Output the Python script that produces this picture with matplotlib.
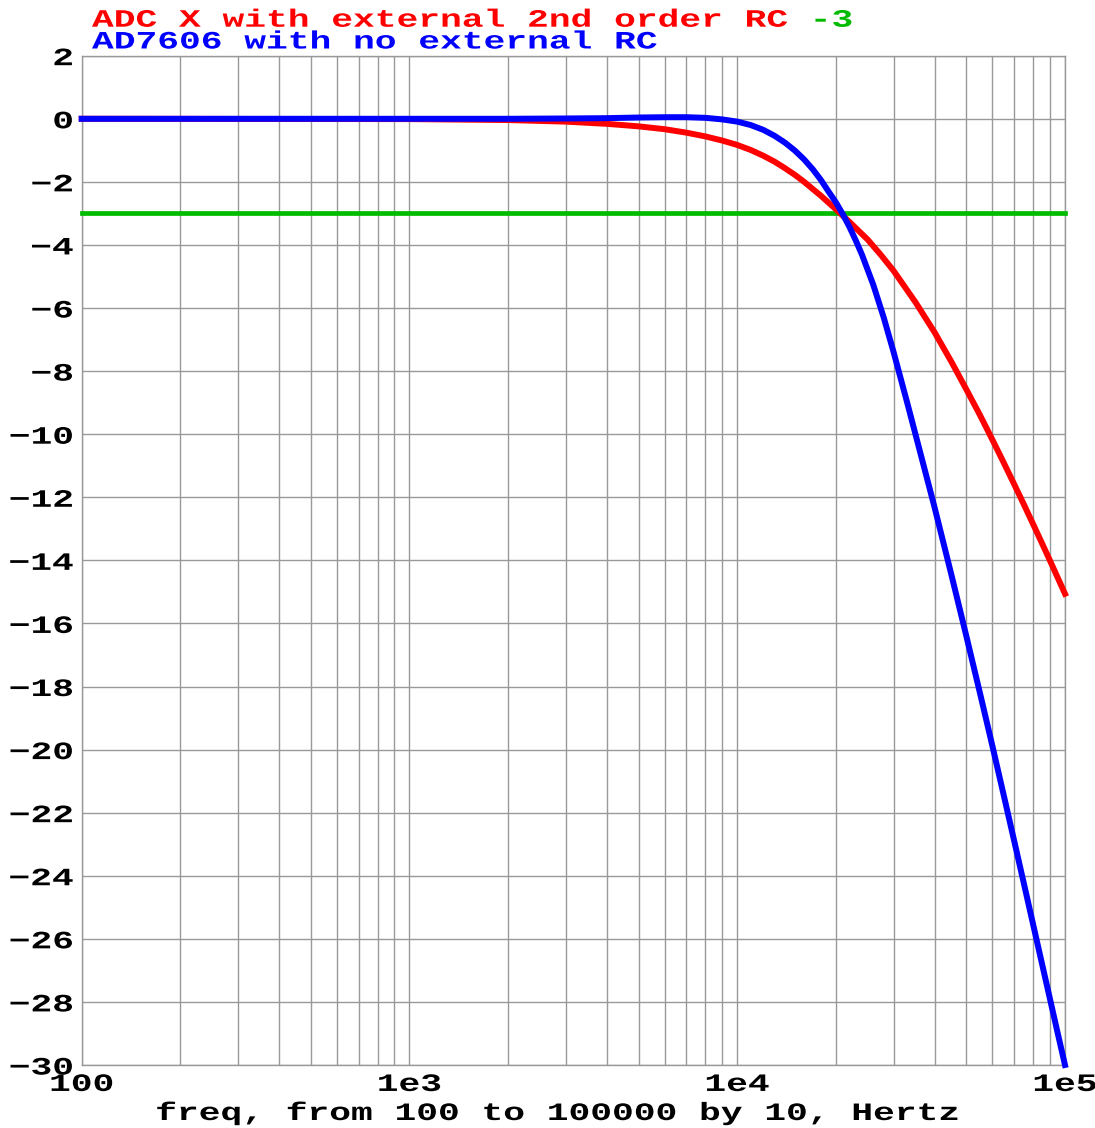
import matplotlib

matplotlib.use('Agg')

import matplotlib.pyplot as plt  # noqa: E402
from matplotlib.patheffects import AbstractPathEffect  # noqa: E402
from matplotlib.ticker import FixedLocator, FixedFormatter, LogLocator, NullFormatter  # noqa: E402
from matplotlib.transforms import Affine2D  # noqa: E402

# Frequency response of the two input paths, magnitude in dB.
red_freq = [100, 1000, 2000, 3000, 4000, 5000, 6000, 7000, 8000, 9000,
            10000, 11000, 12000, 13000, 14000, 15000, 16000, 18000, 20000,
            22000, 25000, 27500, 30000, 35000, 40000, 45000, 50000, 55000, 60000,
            65000, 70000, 75000, 80000, 85000, 90000, 95000, 100000]
red_db = [0.0, -0.01, -0.04, -0.09, -0.16, -0.24, -0.33, -0.44, -0.56, -0.69,
          -0.83, -0.99, -1.17, -1.36, -1.57, -1.78, -2.00, -2.44, -2.87,
          -3.27, -3.83, -4.33, -4.82, -5.82, -6.77, -7.70, -8.58, -9.39, -10.17,
          -10.90, -11.59, -12.24, -12.86, -13.45, -14.01, -14.55, -15.06]

blue_freq = [100, 1000, 2000, 3000, 4000, 5000, 6000, 7000, 8000, 9000,
             10000, 11000, 12000, 13000, 14000, 15000, 16000, 17000, 18000,
             19000, 20000, 21000, 22000, 23000, 24000, 26000, 28000, 30000, 33000,
             36000, 40000, 45000, 50000, 55000, 60000, 65000, 70000, 75000,
             80000, 85000, 90000, 95000, 100000]
blue_db = [0.0, 0.0, 0.0, 0.01, 0.02, 0.04, 0.05, 0.05, 0.03, -0.02,
           -0.09, -0.20, -0.35, -0.54, -0.76, -1.01, -1.29, -1.60, -1.94,
           -2.31, -2.65, -3.03, -3.43, -3.86, -4.30, -5.26, -6.31, -7.40, -9.00,
           -10.50, -12.32, -14.45, -16.40, -18.20, -19.87, -21.44, -22.90, -24.27,
           -25.56, -26.77, -27.91, -28.99, -30.00]

ref_freq = [100, 100000]
ref_db = [-3, -3]

x_tick_values = [100, 1e3, 1e4, 1e5]
x_tick_labels = ['100', '1e3', '1e4', '1e5']
y_ticks = list(range(-30, 3, 2))

RED = '#ff0000'
BLUE = '#0000ff'
GREEN = '#00bb00'
GRID = '#999999'
FONT = 'Liberation Mono'
FS = 18
WIDEN = 1.45
DPI = 100


class WideGlyphs(AbstractPathEffect):
    """Draw text outlines stretched horizontally about an anchor edge."""

    def __init__(self, sx, anchor='left'):
        super().__init__()
        self._sx = sx
        self._anchor = anchor

    def draw_path(self, renderer, gc, tpath, affine, rgbFace=None):
        ext = tpath.get_extents()
        cx = {'left': 0.0,
              'center': (ext.x0 + ext.x1) / 2,
              'right': ext.x1}[self._anchor]
        stretch = Affine2D().translate(-cx, 0).scale(self._sx, 1).translate(cx, 0)
        renderer.draw_path(gc, tpath, stretch + affine, rgbFace)


W, H = 1095, 1128
fig = plt.figure(figsize=(W / DPI, H / DPI), dpi=DPI)
ax = fig.add_axes([81.7 / W, 1 - 1065 / H, (1065 - 81.7) / W, (1065 - 55.7) / H])

ax.plot(ref_freq, ref_db, color=GREEN, linewidth=3.4, clip_on=False, zorder=3)
ax.plot(red_freq, red_db, color=RED, linewidth=4.3, clip_on=False, zorder=4)
ax.plot(blue_freq, blue_db, color=BLUE, linewidth=4.3, clip_on=False, zorder=5)

ax.set_xscale('log')
ax.set_xlim(100, 1e5)
ax.set_ylim(-30, 2)

ax.xaxis.set_major_locator(FixedLocator(x_tick_values))
ax.xaxis.set_major_formatter(FixedFormatter(x_tick_labels))
ax.xaxis.set_minor_locator(LogLocator(base=10, subs=range(2, 10)))
ax.xaxis.set_minor_formatter(NullFormatter())
ax.yaxis.set_major_locator(FixedLocator(y_ticks))

ax.tick_params(which='both', length=0)
ax.tick_params(axis='x', pad=5)
ax.tick_params(axis='y', pad=6)
for lbl in ax.get_xticklabels():
    lbl.set(fontfamily=FONT, fontweight='bold', fontsize=FS,
            path_effects=[WideGlyphs(WIDEN, 'center')])
for lbl in ax.get_yticklabels():
    lbl.set(fontfamily=FONT, fontweight='bold', fontsize=FS,
            path_effects=[WideGlyphs(WIDEN, 'right')])

ax.grid(True, which='both', axis='x', color=GRID, linewidth=1.0)
ax.grid(True, which='major', axis='y', color=GRID, linewidth=1.0)
ax.set_axisbelow(True)
for spine in ax.spines.values():
    spine.set_color(GRID)
    spine.set_linewidth(1.0)

text_kw = dict(fontsize=FS, family=FONT, weight='bold', va='baseline')

# Two-line title; the green "-3" follows the red text on the first line.
# Liberation Mono advances 0.6 em per character.
char_px = 0.6 * FS * DPI / 72 * WIDEN
line1 = 'ADC X with external 2nd order RC '
fig.text(92 / W, 1 - 26.7 / H, line1.rstrip(), color=RED, ha='left',
         path_effects=[WideGlyphs(WIDEN)], **text_kw)
fig.text((92 + len(line1) * char_px) / W, 1 - 26.7 / H, '-3', color=GREEN, ha='left',
         path_effects=[WideGlyphs(WIDEN)], **text_kw)
fig.text(92 / W, 1 - 48.5 / H, 'AD7606 with no external RC', color=BLUE, ha='left',
         path_effects=[WideGlyphs(WIDEN)], **text_kw)

fig.text(557.5 / W, 1 - 1120 / H, 'freq, from 100 to 100000 by 10, Hertz',
         color='black', ha='center',
         path_effects=[WideGlyphs(WIDEN, 'center')], **text_kw)

fig.savefig('out.png', dpi=DPI, facecolor='white')
plt.close(fig)
